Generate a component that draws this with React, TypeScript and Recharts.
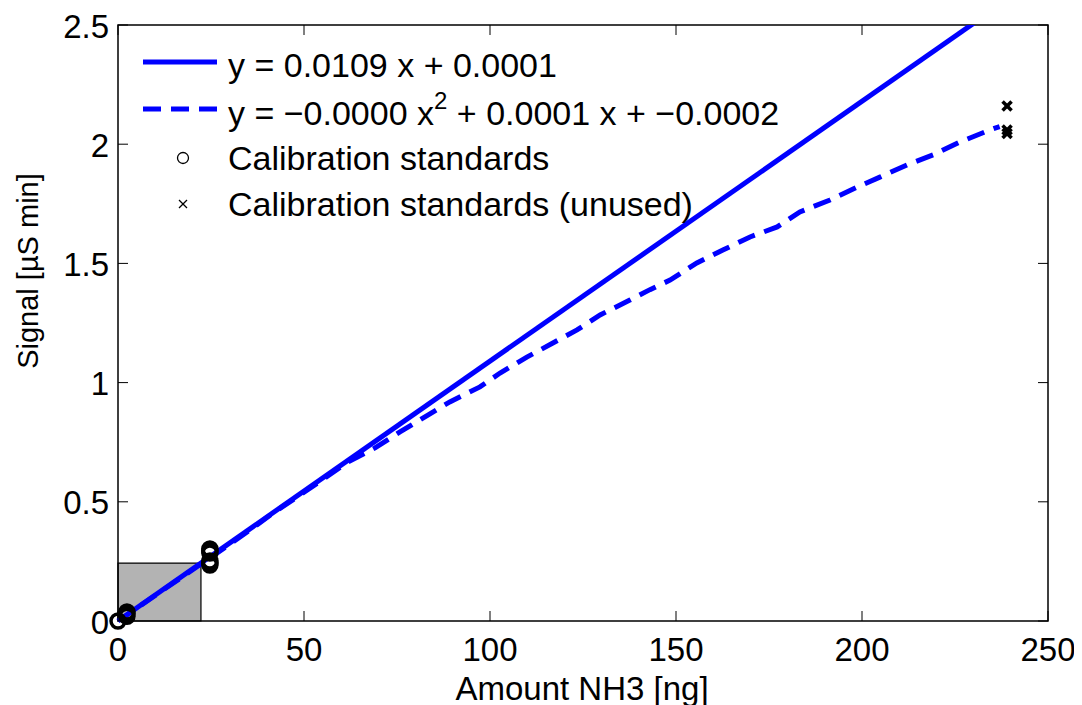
import React from 'react';
import { ComposedChart, Line, Scatter, XAxis, YAxis, ReferenceArea } from 'recharts';

// ---- data ----
const xTicks = [0, 50, 100, 150, 200, 250];
const yTicks = [0, 0.5, 1, 1.5, 2, 2.5];

const linearX = [0, 250];
const linearY = [0.0001, 2.7251];

const quadX = [0, 25, 34.7, 41.7, 48.9, 55.6, 61.8, 69.1, 75.8, 83.3, 89.2, 97.3, 102.7, 109.9, 116.9, 123.4, 129.6, 137.6, 143, 148.4, 155.6, 162.6, 169.9, 177.2, 183.3, 191.4, 198.7, 204.8, 212.1, 219.1, 226.3, 234.4, 237];
const quadY = [0, 0.268, 0.373, 0.453, 0.528, 0.6, 0.667, 0.726, 0.793, 0.864, 0.919, 0.982, 1.04, 1.107, 1.166, 1.221, 1.284, 1.346, 1.39, 1.43, 1.502, 1.556, 1.611, 1.653, 1.716, 1.766, 1.82, 1.862, 1.913, 1.955, 2.009, 2.06, 2.074];

const stdX = [0, 2.4, 2.4, 2.4, 24.7, 24.7, 24.7, 24.7, 24.7, 24.7];
const stdY = [0, 0.02, 0.03, 0.038, 0.235, 0.243, 0.252, 0.285, 0.294, 0.302];

const unusedX = [239, 239, 239];
const unusedY = [2.16, 2.06, 2.045];

const zoomBox = { x1: 0, x2: 22.3, y1: 0, y2: 0.243 };

const legendLabels = ['y = 0.0109 x + 0.0001', 'Calibration standards', 'Calibration standards (unused)'];

// ---- layout ----
const W = 1074;
const H = 697;
const PL = 110;
const PT = 17;
const PR = 1040;
const PB = 613;
const FONT = '"Liberation Sans", Arial, Helvetica, sans-serif';
const FS = 33;
const LFS = 34;
const BLUE = '#0000ff';

const zip = (xs: number[], ys: number[]) => xs.map((x, i) => ({ x, y: ys[i] }));

const linearData = zip(linearX, linearY);
const quadData = zip(quadX, quadY);
const stdData = zip(stdX, stdY);
const unusedData = zip(unusedX, unusedY);

const XTick = (props: any) => {
  const { x, payload } = props;
  return (
    <g>
      <line x1={x} x2={x} y1={PB} y2={PB - 10} stroke="#000" strokeWidth={1} />
      <line x1={x} x2={x} y1={PT} y2={PT + 10} stroke="#000" strokeWidth={1} />
      <text x={x} y={PB + 28} textAnchor="middle" dominantBaseline="central" fontFamily={FONT} fontSize={FS} fill="#000">
        {String(payload.value)}
      </text>
    </g>
  );
};

const YTick = (props: any) => {
  const { y, payload } = props;
  return (
    <g>
      <line x1={PL} x2={PL + 10} y1={y} y2={y} stroke="#000" strokeWidth={1} />
      <line x1={PR} x2={PR - 10} y1={y} y2={y} stroke="#000" strokeWidth={1} />
      <text x={PL - 9} y={y + 1} textAnchor="end" dominantBaseline="central" fontFamily={FONT} fontSize={FS} fill="#000">
        {String(payload.value)}
      </text>
    </g>
  );
};

const CircleShape = (props: any) => {
  const { cx, cy } = props;
  return <circle cx={cx} cy={cy} r={7} fill="none" stroke="#000" strokeWidth={3.5} />;
};

const CrossShape = (props: any) => {
  const { cx, cy } = props;
  const s = 4.5;
  return (
    <g stroke="#000" strokeWidth={3.5}>
      <line x1={cx - s} y1={cy - s} x2={cx + s} y2={cy + s} />
      <line x1={cx - s} y1={cy + s} x2={cx + s} y2={cy - s} />
    </g>
  );
};

const Legend = () => {
  const tx = 220;
  const lx1 = 135;
  const lx2 = 209;
  const mx = 175;
  const rows = [54, 101, 150, 196];
  return (
    <svg width={W} height={H} style={{ position: 'absolute', left: 0, top: 0, pointerEvents: 'none' }}>
      <line x1={lx1} x2={lx2} y1={rows[0]} y2={rows[0]} stroke={BLUE} strokeWidth={5} />
      <text x={tx} y={rows[0] + 3} dominantBaseline="central" fontFamily={FONT} fontSize={LFS}>{legendLabels[0]}</text>
      <line x1={lx1} x2={lx2} y1={rows[1]} y2={rows[1]} stroke={BLUE} strokeWidth={5} strokeDasharray="18 10" />
      <text x={tx} y={rows[1] + 4} dominantBaseline="central" fontFamily={FONT} fontSize={LFS}>
        {'y = \u22120.0000 x'}
        <tspan dy={-13} fontSize={24}>2</tspan>
        <tspan dy={13}>{' + 0.0001 x + \u22120.0002'}</tspan>
      </text>
      <circle cx={mx} cy={rows[2]} r={5.5} fill="none" stroke="#000" strokeWidth={1.3} />
      <text x={tx} y={rows[2]} dominantBaseline="central" fontFamily={FONT} fontSize={LFS}>{legendLabels[1]}</text>
      <g stroke="#000" strokeWidth={1.2}>
        <line x1={mx - 4} y1={rows[3] - 4} x2={mx + 4} y2={rows[3] + 4} />
        <line x1={mx - 4} y1={rows[3] + 4} x2={mx + 4} y2={rows[3] - 4} />
      </g>
      <text x={tx} y={rows[3]} dominantBaseline="central" fontFamily={FONT} fontSize={LFS}>{legendLabels[2]}</text>
    </svg>
  );
};

export default function App() {
  return (
    <div style={{ position: 'relative', width: W, height: H, background: '#fff' }}>
      <ComposedChart width={W} height={H} margin={{ top: PT, right: W - PR, bottom: 0, left: 0 }}>
        <XAxis
          type="number"
          dataKey="x"
          domain={[0, 250]}
          ticks={xTicks}
          height={H - PB}
          tickLine={false}
          axisLine={false}
          tick={<XTick />}
          interval={0}
          label={{
            content: () => (
              <text x={574} y={680} textAnchor="middle" dominantBaseline="central" fontFamily={FONT} fontSize={FS} fill="#000">
                Amount NH3 [ng]
              </text>
            ),
          }}
        />
        <YAxis
          yAxisId="main"
          type="number"
          domain={[0, 2.5]}
          ticks={yTicks}
          width={PL}
          tickLine={false}
          axisLine={false}
          tick={<YTick />}
          interval={0}
          label={{
            content: () => (
              <text x={20} y={263} textAnchor="middle" dominantBaseline="central" transform="rotate(-90 20 263)" fontFamily={FONT} fontSize={29} fill="#000">
                Signal [µS min]
              </text>
            ),
          }}
        />
        <YAxis yAxisId="clip" type="number" domain={[0, 2.5]} allowDataOverflow hide />
        <ReferenceArea
          yAxisId="main"
          x1={zoomBox.x1}
          x2={zoomBox.x2}
          y1={zoomBox.y1}
          y2={zoomBox.y2}
          fill="#b3b3b3"
          fillOpacity={1}
          stroke="#000"
          strokeWidth={1.2}
        />
        <Line
          yAxisId="main"
          data={quadData}
          dataKey="y"
          type="linear"
          stroke={BLUE}
          strokeWidth={5}
          strokeDasharray="18 10"
          dot={false}
          activeDot={false}
          isAnimationActive={false}
        />
        <Line
          yAxisId="clip"
          data={linearData}
          dataKey="y"
          type="linear"
          stroke={BLUE}
          strokeWidth={5}
          dot={false}
          activeDot={false}
          isAnimationActive={false}
        />
        <Scatter yAxisId="main" data={stdData} dataKey="y" shape={<CircleShape />} isAnimationActive={false} />
        <Scatter yAxisId="main" data={unusedData} dataKey="y" shape={<CrossShape />} isAnimationActive={false} />
        <ReferenceArea
          yAxisId="main"
          x1={0}
          x2={250}
          y1={0}
          y2={2.5}
          fill="none"
          stroke="#000"
          strokeWidth={1.5}
        />
      </ComposedChart>
      <Legend />
    </div>
  );
}
